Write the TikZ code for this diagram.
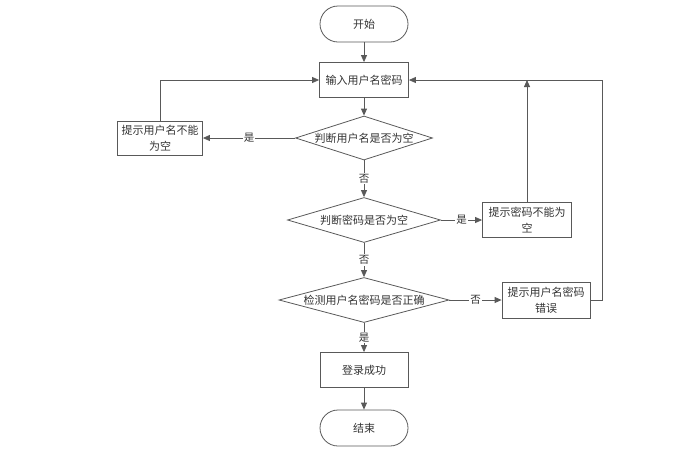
\documentclass[tikz,border=0pt]{standalone}
\usepackage{fontspec}
\newfontfamily\cjk{Noto Sans CJK SC}
\usetikzlibrary{shapes.geometric,arrows.meta,positioning}

\tikzset{
  flow/.style={draw=black!65, line width=0.8pt, text=black!80, font=\cjk\fontsize{11}{16}\selectfont},
  startstop/.style={flow, rectangle, rounded corners=18pt, minimum width=88pt, minimum height=36pt},
  process/.style={flow, rectangle, minimum width=88pt, minimum height=35pt, align=center, inner sep=1pt},
  decision/.style={flow, diamond, inner sep=0pt, minimum height=45pt},
  arrow/.style={draw=black!65, line width=0.8pt, -{Triangle[length=7pt,width=6pt]}},
  yesno/.style={fill=white, inner sep=1pt, text=black!80, font=\cjk\fontsize{10.5}{12}\selectfont}
}

\begin{document}
\begin{tikzpicture}[x=1pt, y=-1pt]
					\useasboundingbox (0,0) rectangle (692,472);
					
					% Define nodes
					\node[startstop] (start) at (364,24) {开始};
					\node[process, minimum width=89pt] (input) at (364,80) {输入用户名密码};
					\node[decision, minimum width=137pt, minimum height=44pt] (dec1) at (364,138) {\makebox[0pt]{判断用户名是否为空}};
					\node[process, minimum width=85pt, minimum height=34pt] (warn1) at (160,138) {提示用户名不能\\为空};
					\node[decision, minimum width=153pt] (dec2) at (364,220) {\makebox[0pt]{判断密码是否为空}};
					\node[process, minimum width=89pt] (warn2) at (527,220) {提示密码不能为\\空};
					\node[decision, minimum width=170pt] (dec3) at (364,300) {\makebox[0pt]{检测用户名密码是否正确}};
					\node[process, minimum height=36pt] (warn3) at (546,300) {提示用户名密码\\错误};
					\node[process] (ok) at (364,370) {登录成功};
					\node[startstop] (stop) at (364,428) {结束};
					
					% Main flow
					\draw[arrow] (start) -- (input);
					\draw[arrow] (input) -- (dec1);
					\draw[arrow] (dec1) -- node[yesno] {否} (dec2);
					\draw[arrow] (dec2) -- node[yesno] {否} (dec3);
					\draw[arrow] (dec3) -- node[yesno] {是} (ok);
					\draw[arrow] (ok) -- (stop);
					
					% Branches
					\draw[arrow] (dec1.west) -- node[yesno] {是} (warn1.east);
					\draw[arrow] (dec2.east) -- node[yesno] {是} (warn2.west);
					\draw[arrow] (dec3.east) -- node[yesno] {否} (warn3.west);
					
					% Back to input
					\draw[arrow] (warn1.north) |- (input.west);
					\draw[arrow] (warn2.north) -- (warn2.north |- input.east);
					\coordinate (back) at (602,300);
					\draw[arrow] (warn3.east) -- (back) |- (input.east);
				\end{tikzpicture}
\end{document}
